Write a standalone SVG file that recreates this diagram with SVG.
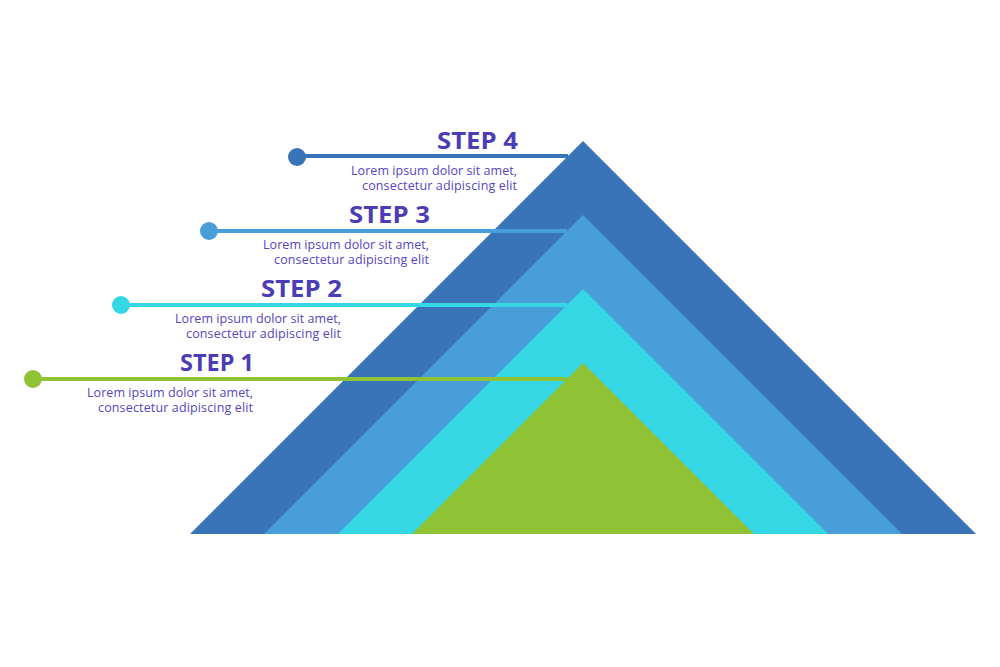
<svg xmlns="http://www.w3.org/2000/svg" width="1000" height="667" viewBox="0 0 1000 667">
<style>
.h{font-family:"Open Sans","Liberation Sans",sans-serif;font-weight:700;font-size:23px;fill:#4C3DB6;text-anchor:end}
.b{font-family:"Open Sans","Liberation Sans",sans-serif;font-size:12.5px;fill:#5546BF;text-anchor:end}
.ln{stroke-width:4;fill:none}
</style>
<rect width="1000" height="667" fill="#ffffff"/>
<g id="step4">
<polygon points="190,534 583,141 976,534" fill="#3A74B8"/>
<text class="h" x="518" y="149" textLength="81" lengthAdjust="spacingAndGlyphs">STEP 4</text>
<text class="b" x="517" y="175" textLength="166">Lorem ipsum dolor sit amet,</text>
<text class="b" x="517" y="190" textLength="155">consectetur adipiscing elit</text>
</g>
<g id="step3">
<polygon points="264,534 583,215 902,534" fill="#479ED8"/>
<text class="h" x="430" y="223" textLength="81" lengthAdjust="spacingAndGlyphs">STEP 3</text>
<text class="b" x="429" y="249" textLength="166">Lorem ipsum dolor sit amet,</text>
<text class="b" x="429" y="264" textLength="155">consectetur adipiscing elit</text>
</g>
<g id="step2">
<polygon points="338,534 583,289 828,534" fill="#36D7E4"/>
<text class="h" x="342" y="297" textLength="81" lengthAdjust="spacingAndGlyphs">STEP 2</text>
<text class="b" x="341" y="323" textLength="166">Lorem ipsum dolor sit amet,</text>
<text class="b" x="341" y="338" textLength="155">consectetur adipiscing elit</text>
</g>
<g id="step1">
<polygon points="412,534 583,363 754,534" fill="#90C236"/>
<text class="h" x="254" y="371" textLength="74" lengthAdjust="spacingAndGlyphs">STEP 1</text>
<text class="b" x="253" y="397" textLength="166">Lorem ipsum dolor sit amet,</text>
<text class="b" x="253" y="412" textLength="155">consectetur adipiscing elit</text>
</g>
<g id="connectors">
<line class="ln" x1="297" y1="156" x2="568" y2="156" stroke="#3A74B8"/>
<circle cx="297" cy="157" r="9" fill="#3A74B8"/>
<line class="ln" x1="209" y1="231" x2="567" y2="231" stroke="#479ED8"/>
<circle cx="209" cy="231" r="9" fill="#479ED8"/>
<line class="ln" x1="121" y1="305" x2="567" y2="305" stroke="#36D7E4"/>
<circle cx="121" cy="305" r="9" fill="#36D7E4"/>
<line class="ln" x1="33" y1="379" x2="567" y2="379" stroke="#90C236"/>
<circle cx="33" cy="379" r="9" fill="#90C236"/>
</g>
</svg>
